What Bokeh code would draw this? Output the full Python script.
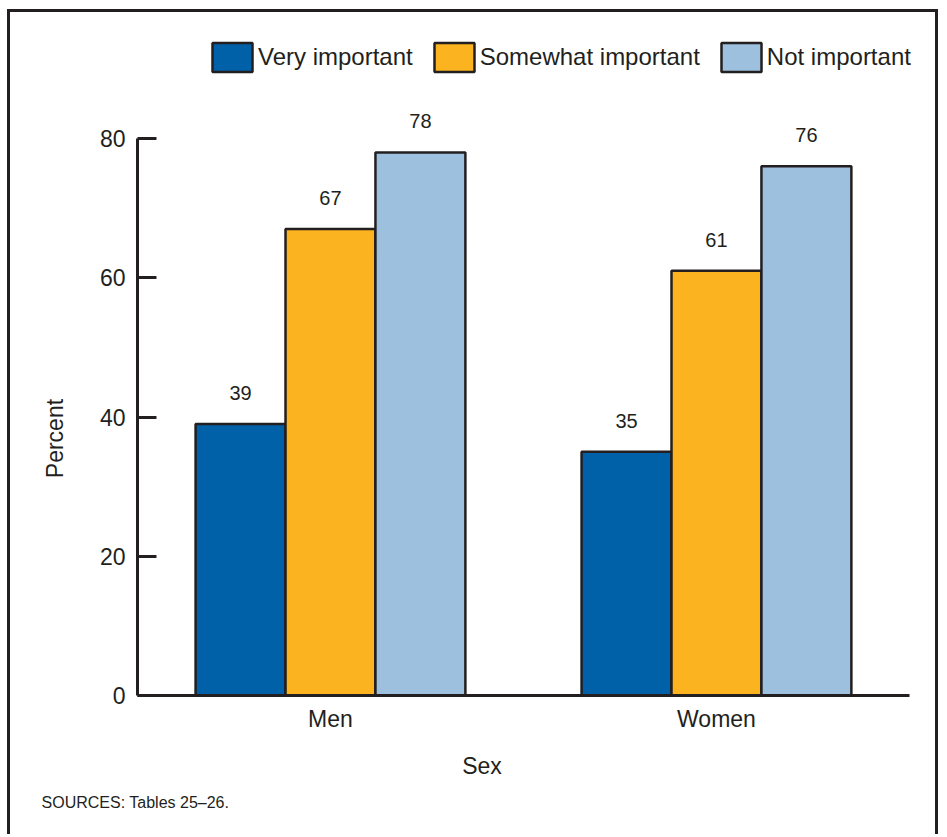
import math
from bokeh.plotting import figure
from bokeh.models import ColumnDataSource, Range1d, FixedTicker, Legend, LegendItem
from bokeh.core.properties import value
from bokeh.embed import file_html
from bokeh.resources import INLINE

# ---- data ----
categories = ["Men", "Women"]
series_names = ["Very important", "Somewhat important", "Not important"]
very_important = [39, 35]
somewhat_important = [67, 61]
not_important = [78, 76]
y_ticks = [0, 20, 40, 60, 80]
source_note = "SOURCES: Tables 25\u201326."
x_title = "Sex"
y_title = "Percent"

colors = ["#0061A9", "#FBB41F", "#9CC0DE"]
ink = "#231f20"
FONT = "Liberation Sans"

cat_pos = [1, 3]
bar_w = 0.466
offsets = [-bar_w, 0.0, bar_w]

p = figure(width=931, height=825, x_range=Range1d(-0.658, 4.166), y_range=Range1d(-20.39, 95.37),
           output_backend="svg", toolbar_location=None,
           min_border_left=0, min_border_right=0, min_border_top=19, min_border_bottom=0)
p.background_fill_color = "white"
p.border_fill_color = "white"
p.outline_line_color = None
p.xgrid.visible = False
p.ygrid.visible = False
p.styles = {"margin-left": "7px", "margin-top": "9px",
            "border-top": f"3px solid {ink}", "border-left": f"3px solid {ink}",
            "border-right": f"3px solid {ink}"}

renderers = []
for vals, name, col, off in zip([very_important, somewhat_important, not_important],
                                series_names, colors, offsets):
    src = ColumnDataSource(dict(x=[c + off for c in cat_pos], top=vals,
                                lab=[str(v) for v in vals]))
    r = p.vbar(x="x", top="top", bottom=0, width=bar_w, source=src,
               fill_color=col, line_color=ink, line_width=2.5)
    renderers.append(r)
    p.text(x="x", y="top", text="lab", source=src, text_align="center",
           text_baseline="alphabetic", y_offset=-31, text_font=value(FONT),
           text_font_size="20px", text_color=ink)

# axes
xa = p.xaxis[0]
xa.fixed_location = 0
xa.bounds = (0, 4)
xa.ticker = FixedTicker(ticks=cat_pos)
xa.major_label_overrides = {cat_pos[i]: categories[i] for i in range(len(categories))}
xa.major_tick_line_color = None
xa.minor_tick_line_color = None
xa.axis_line_color = ink
xa.axis_line_width = 3
xa.major_label_text_font = FONT
xa.major_label_text_font_size = "23px"
xa.major_label_text_color = ink
xa.major_label_standoff = 4

ya = p.yaxis[0]
ya.fixed_location = 0
ya.ticker = FixedTicker(ticks=y_ticks)
ya.bounds = (0, 80)
ya.axis_line_color = ink
ya.axis_line_width = 3
ya.major_tick_in = 19
ya.major_tick_out = 0
ya.major_tick_line_width = 3
ya.major_tick_line_color = ink
ya.minor_tick_line_color = None
ya.major_label_text_font = FONT
ya.major_label_text_font_size = "23px"
ya.major_label_text_color = ink
ya.major_label_standoff = 12

# axis titles and sources, drawn as text glyphs
p.text(x=[-0.4249], y=[36.91], text=[y_title], angle=math.pi / 2, text_align="center",
       text_baseline="alphabetic", text_font=value(FONT),
       text_font_size="23px", text_color=ink)
p.text(x=[1.785], y=[-11.06], text=[x_title], text_align="center",
       text_baseline="alphabetic", y_offset=-7, text_font=value(FONT),
       text_font_size="23px", text_color=ink)
p.text(x=[-0.497], y=[-16.37], text=[source_note], text_align="left",
       text_baseline="alphabetic", y_offset=-7, text_font=value(FONT),
       text_font_size="16px", text_color=ink)

legend = Legend(items=[LegendItem(label=n, renderers=[r]) for n, r in zip(series_names, renderers)],
                location=(197, 762), orientation="horizontal")
legend.glyph_width = 50
legend.glyph_height = 36
legend.label_standoff = 1
legend.spacing = 16
legend.padding = 0
legend.margin = 0
legend.border_line_color = None
legend.background_fill_alpha = 0
legend.label_text_font = FONT
legend.label_text_font_size = "24px"
legend.label_text_color = ink
legend.label_height = 29
p.add_layout(legend, "center")

open("out.html", "w").write(file_html(p, INLINE))
